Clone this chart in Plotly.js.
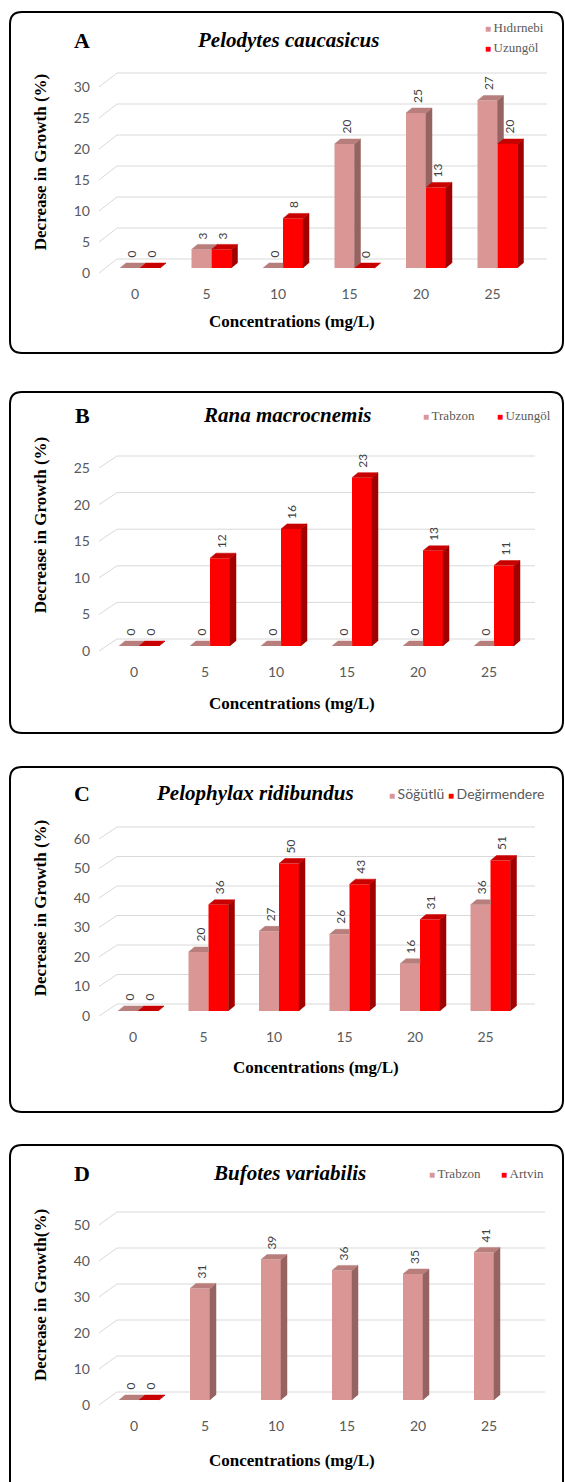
<!DOCTYPE html>
<html><head><meta charset="utf-8">
<script src="https://cdn.plot.ly/plotly-3.0.1.min.js"></script>
<style>html,body{margin:0;padding:0;background:#fff}#chart{width:565px;height:1482px}</style>
</head><body><div id="chart"></div>
<script>
// ---------------- data ----------------
const categories = ['0','5','10','15','20','25'];

const seriesNamesA = ['Hıdırnebi','Uzungöl'];
const hidirnebiA = [0,3,0,20,25,27];
const uzungolA = [0,3,8,0,13,20];
const ticksA = [0,5,10,15,20,25,30];

const seriesNamesB = ['Trabzon','Uzungöl'];
const trabzonB = [0,0,0,0,0,0];
const uzungolB = [0,12,16,23,13,11];
const ticksB = [0,5,10,15,20,25];

const seriesNamesC = ['Söğütlü','Değirmendere'];
const sogutluC = [0,20,27,26,16,36];
const degirmendereC = [0,36,50,43,31,51];
const ticksC = [0,10,20,30,40,50,60];

const seriesNamesD = ['Trabzon','Artvin'];
const trabzonD = [0,31,39,36,35,41];
const artvinD = [0,null,null,null,null,null];
const ticksD = [0,10,20,30,40,50];

const panelLetters = ['A','B','C','D'];
const panelTitles = ['Pelodytes caucasicus','Rana macrocnemis','Pelophylax ridibundus','Bufotes variabilis'];
const yTitles = ['Decrease in Growth (%)','Decrease in Growth (%)','Decrease in Growth (%)','Decrease in Growth(%)'];
const xTitle = 'Concentrations (mg/L)';

// ---------------- layout geometry (pixels) ----------------
const W = 565, H = 1482;
const dataSets = [
  {names: seriesNamesA, vals: [hidirnebiA, uzungolA], ticks: ticksA},
  {names: seriesNamesB, vals: [trabzonB, uzungolB], ticks: ticksB},
  {names: seriesNamesC, vals: [sogutluC, degirmendereC], ticks: ticksC},
  {names: seriesNamesD, vals: [trabzonD, artvinD], ticks: ticksD}
];
const serifFont = 'Liberation Serif';
const sansFont = 'Lato';
const geo = [
  {box:[10,12,563,353], c0:135, cs:71.5, t0:273, k:6.2, back:14, gridR:547, domTop:40,
   title:[288,40], leg:[[483,27],[483,47]], legFont:{family:serifFont,size:13}, xt:[292,322]},
  {box:[10,392,563,733], c0:134, cs:71, t0:651, k:7.32, back:12, gridR:535, domTop:388,
   title:[287,415], leg:[[421,415],[495,415]], legFont:{family:serifFont,size:13}, xt:[292,703]},
  {box:[10,767,563,1112], c0:133, cs:70.5, t0:1016, k:2.95, back:12, gridR:535, domTop:789,
   title:[255,793], leg:[[387,793],[446,793]], legFont:{family:sansFont,size:14}, xt:[316,1067]},
  {box:[10,1145,563,1494], c0:134, cs:71, t0:1405, k:3.6, back:13, gridR:545, domTop:1174,
   title:[289,1173], leg:[[427,1173],[499,1173]], legFont:{family:serifFont,size:13}, xt:[292,1460]}
];
const colors = [
  {front:'#D99694', top:'#B77E7C', side:'#956462'},
  {front:'#FF0000', top:'#C80000', side:'#A00000'}
];

const px = x => x / W;
const py = y => 1 - y / H;

function clipHalf(poly, a, b, c) {
  const out = [];
  const n = poly.length;
  for (let i = 0; i < n; i++) {
    const P = poly[i], Q = poly[(i + 1) % n];
    const fp = a * P[0] + b * P[1] + c, fq = a * Q[0] + b * Q[1] + c;
    if (fp >= 0) out.push(P);
    if ((fp >= 0) !== (fq >= 0)) {
      const t = fp / (fp - fq);
      out.push([P[0] + t * (Q[0] - P[0]), P[1] + t * (Q[1] - P[1])]);
    }
  }
  return out;
}

function roundRect(x0, y0, x1, y1, r) {
  const rx = r / W, ry = r / H;
  const X0 = px(x0), X1 = px(x1), Y0 = py(y0), Y1 = py(y1);
  return `M${X0+rx},${Y0} L${X1-rx},${Y0} Q${X1},${Y0} ${X1},${Y0-ry} L${X1},${Y1+ry} Q${X1},${Y1} ${X1-rx},${Y1} ` +
         `L${X0+rx},${Y1} Q${X0},${Y1} ${X0},${Y1+ry} L${X0},${Y0-ry} Q${X0},${Y0} ${X0+rx},${Y0} Z`;
}

const traces = [], shapes = [], annotations = [];
const layout = {
  width: W, height: H, margin: {l:0, r:0, t:0, b:0},
  paper_bgcolor: '#ffffff', plot_bgcolor: 'rgba(0,0,0,0)',
  showlegend: false, barmode: 'overlay',
  font: {family: sansFont, color: '#595959'}
};

geo.forEach((g, p) => {
  const ds = dataSets[p];
  const ax = p === 0 ? '' : String(p + 1);
  const xa = 'x' + ax, ya = 'y' + ax;
  const dl = 96, dr = 556, bot = g.t0 + 11;
  const xIdx = categories.map((c, i) => i);

  layout['xaxis' + ax] = {
    domain: [px(dl), px(dr)], range: [(dl - g.c0) / g.cs, (dr - g.c0) / g.cs], anchor: ya,
    tickvals: xIdx, ticktext: categories, showgrid: false, zeroline: false, showline: false,
    ticks: '', tickfont: {family: sansFont, size: 14, color: '#595959'}, fixedrange: true
  };
  layout['yaxis' + ax] = {
    domain: [py(bot), py(g.domTop)], range: [(g.t0 - bot) / g.k, (g.t0 - g.domTop) / g.k], anchor: xa,
    tickvals: ds.ticks, showgrid: false, zeroline: false, showline: false, ticks: '',
    tickfont: {family: sansFont, size: 14, color: '#595959'}, ticklabelstandoff: 5, fixedrange: true,
    title: {text: '<b>' + yTitles[p] + '</b>', font: {family: serifFont, size: 17, color: '#000000', weight: 'bold'}, standoff: 22}
  };

  // panel frame
  shapes.push({type:'path', xref:'paper', yref:'paper', layer:'below',
    path: roundRect(g.box[0], g.box[1], g.box[2], g.box[3], 12), line:{color:'#000000', width:2}});

  // back-wall gridlines from the tick values
  const xf = (99 - g.c0) / g.cs, xb = (117 - g.c0) / g.cs, xe = (g.gridR - g.c0) / g.cs;
  ds.ticks.forEach(v => {
    const yb = v + g.back / g.k;
    shapes.push({type:'path', xref:xa, yref:ya, layer:'below',
      path:`M${xf},${v} L${xb},${yb} L${xe},${yb}`, line:{color:'#D9D9D9', width:1}});
  });

  // bars (front faces)
  const w = 20 / g.cs, offs = [-15 / g.cs, 5 / g.cs], base = 5 / g.k, ddx = 6 / g.cs, ddy = 5 / g.k;
  ds.vals.forEach((vals, s) => {
    traces.push({type:'bar', xaxis:xa, yaxis:ya, x:xIdx, y:vals, base:base, width:w, offset:offs[s],
      marker:{color:colors[s].front, line:{width:0}}, name:ds.names[s], showlegend:false, hoverinfo:'skip'});
  });

  const faceTrace = (polys, color) => {
    const x = [], y = [];
    polys.forEach(pl => {
      if (pl.length < 3) return;
      pl.forEach(pt => { x.push(pt[0]); y.push(pt[1]); });
      x.push(null); y.push(null);
    });
    return {type:'scatter', mode:'lines', x, y, fill:'toself', fillcolor:color,
      line:{width:0.5, color:color}, xaxis:xa, yaxis:ya, hoverinfo:'skip', showlegend:false};
  };

  // 3-D top and side faces + value labels
  ds.vals.forEach((vals, s) => {
    const tops = [], sides = [];
    vals.forEach((v, i) => {
      if (v == null) return;
      const xl = i + offs[s], xr = xl + w, t = base + v;
      const top = [[xl,t],[xl+ddx,t+ddy],[xr+ddx,t+ddy],[xr,t]];
      const side = [[xr,base],[xr,t],[xr+ddx,t+ddy],[xr+ddx,base+ddy]];
      const other = s === 0 ? ds.vals[1][i] : null;
      if (other != null) {
        const tR = base + other, X = i + offs[1];
        tops.push(clipHalf(top, -1, 0, X));
        tops.push(clipHalf(clipHalf(top, 1, 0, -X), 0, 1, -tR));
        sides.push(clipHalf(side, 0, 1, -tR));
      } else {
        tops.push(top); sides.push(side);
      }
      annotations.push({xref:xa, yref:ya, x: xl + w/2 + 1/g.cs, y: t + ddy, text: String(v),
        textangle: -90, showarrow: false, xanchor:'center', yanchor:'bottom', yshift: 3,
        font:{family: sansFont, size: 12, color:'#404040'}});
    });
    traces.push(faceTrace(sides, colors[s].side));
    traces.push(faceTrace(tops, colors[s].top));
  });

  // panel letter & title
  annotations.push({xref:'paper', yref:'paper', x:px(82), y:py(g.title[1]), text:'<b>' + panelLetters[p] + '</b>',
    showarrow:false, xanchor:'center', yanchor:'middle', font:{family:serifFont, size:22, color:'#000000', weight:'bold'}});
  annotations.push({xref:'paper', yref:'paper', x:px(g.title[0]), y:py(g.title[1]), text:'<b><i>' + panelTitles[p] + '</i></b>',
    showarrow:false, xanchor:'center', yanchor:'middle', font:{family:serifFont, size:21, color:'#000000', weight:'bold', style:'italic'}});
  // x-axis title
  annotations.push({xref:'paper', yref:'paper', x:px(g.xt[0]), y:py(g.xt[1]), text:'<b>' + xTitle + '</b>',
    showarrow:false, xanchor:'center', yanchor:'middle', font:{family:serifFont, size:17, color:'#000000', weight:'bold'}});
  // legend entries
  ds.names.forEach((nm, s) => {
    annotations.push({xref:'paper', yref:'paper', x:px(g.leg[s][0]), y:py(g.leg[s][1]),
      text:'<span style="color:' + colors[s].front + ';font-size:10px">■ </span>' + nm,
      showarrow:false, xanchor:'left', yanchor:'middle', font:Object.assign({color:'#595959'}, g.legFont)});
  });
});

layout.shapes = shapes;
layout.annotations = annotations;
Plotly.newPlot('chart', traces, layout, {staticPlot: true, displayModeBar: false});
</script></body></html>
